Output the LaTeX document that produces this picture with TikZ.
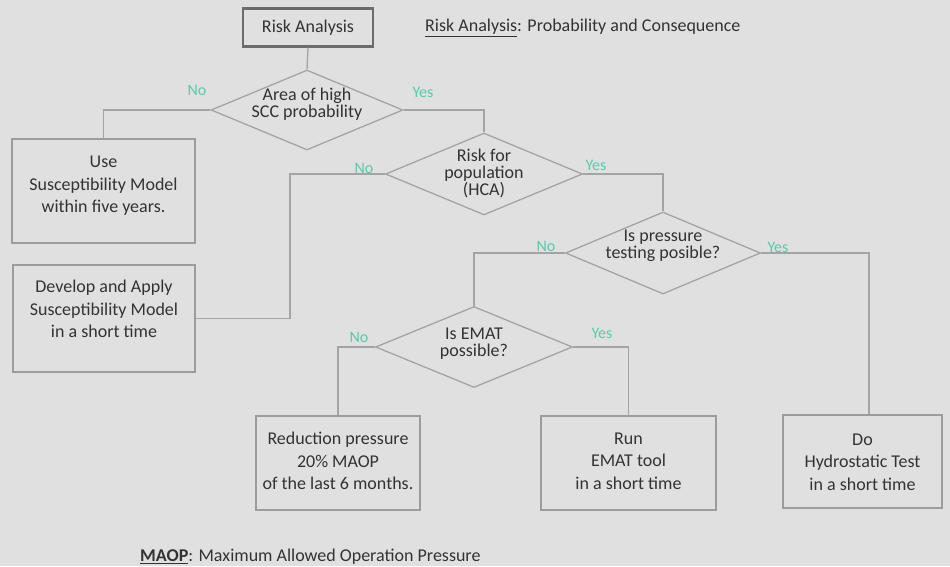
\documentclass[tikz,border=0pt]{standalone}
\usepackage{fontspec}
\setmainfont{Carlito}
\usetikzlibrary{shapes.geometric,calc}
\definecolor{bg}{HTML}{E0E0E0}
\definecolor{ln}{HTML}{A4A4A4}
\definecolor{bx}{HTML}{9C9C9C}
\definecolor{tx}{HTML}{333333}
\definecolor{lab}{HTML}{5CC8AC}
\tikzset{
  conn/.style={draw=ln, line width=1.3pt},
  boxshape/.style={draw=bx, line width=1.3pt, rectangle, inner sep=0pt},
  decshape/.style={draw=ln, line width=1.3pt, diamond, inner sep=0pt, aspect=2.4},
  boxtext/.style={text=tx, align=center, font=\fontsize{18}{22.5}\selectfont, inner sep=0pt},
  dectext/.style={text=tx, align=center, font=\fontsize{18}{17}\selectfont, inner sep=0pt},
  yn/.style={text=lab, font=\fontsize{16}{18}\selectfont, inner sep=0pt},
}
\begin{document}
\begin{tikzpicture}[x=1pt,y=-1pt]
\fill[bg] (0,0) rectangle (950,566);
\useasboundingbox (0,0) rectangle (950,566);

% start box
\node[boxshape, draw=gray!85!black, line width=2.2pt, minimum width=130pt, minimum height=38pt] (ra) at (308,27.5) {};
\node[boxtext] (rat) at (308,28) {Risk Analysis};

\node[text=tx, anchor=west, font=\fontsize{18}{22}\selectfont, inner sep=0pt] (note) at (425,28) {\underline{Risk Analysis}: Probability and Consequence};

% decisions
\node[decshape, minimum width=192pt, minimum height=80pt] (d1) at (307,110) {};
\node[dectext] (d1t) at (307,104) {Area of high\\SCC probability};

\node[decshape, minimum width=197pt, minimum height=82pt] (d2) at (484,174) {};
\node[dectext] (d2t) at (484,173) {Risk for\\population\\(HCA)};

\node[decshape, minimum width=195pt, minimum height=82pt] (d3) at (663,253) {};
\node[dectext] (d3t) at (663,246) {Is pressure\\testing posible?};

\node[decshape, minimum width=197pt, minimum height=81pt] (d4) at (474,347) {};
\node[dectext] (d4t) at (474,344) {Is EMAT\\possible?};

% result boxes
\node[boxshape, minimum width=183pt, minimum height=104pt] (b1) at (103.5,191) {};
\node[boxtext] (b1t) at (103.5,186) {Use\\Susceptibility Model\\within five years.};

\node[boxshape, minimum width=182pt, minimum height=107pt] (b2) at (104,318.5) {};
\node[boxtext] (b2t) at (104,309) {Develop and Apply\\Susceptibility Model\\in a short time};

\node[boxshape, minimum width=164pt, minimum height=94pt] (red) at (338,463) {};
\node[boxtext] (redt) at (338,461) {Reduction pressure\\20\% MAOP\\of the last 6 months.};

\node[boxshape, minimum width=175pt, minimum height=94pt] (run) at (628.5,463) {};
\node[boxtext] (runt) at (628.5,461) {Run\\EMAT tool\\in a short time};

\node[boxshape, minimum width=159pt, minimum height=93pt] (do) at (862.5,461.5) {};
\node[boxtext] (dot) at (862.5,462) {Do\\Hydrostatic Test\\in a short time};

% connectors
\coordinate (k2) at (290,0);
\draw[conn] (ra.south) -- (d1.north);
\draw[conn] (d1.west) -| (b1.north);
\draw[conn] (d1.east) -| (d2.north);
\draw[conn] (d2.west) -- (d2.west -| k2) |- (b2.east);
\draw[conn] (d2.east) -| (d3.north);
\draw[conn] (d3.west) -| (d4.north);
\draw[conn] (d3.east) -| ([xshift=6.5pt]do.north);
\draw[conn] (d4.west) -| (red.north);
\draw[conn] (d4.east) -| (run.north);

% yes / no labels
\node[yn] (n1) at (197,90) {No};
\node[yn] (y1) at (423,92) {Yes};
\node[yn] (n2) at (364,168) {No};
\node[yn] (y2) at (596,165) {Yes};
\node[yn] (n3) at (546,246) {No};
\node[yn] (y3) at (778,247) {Yes};
\node[yn] (n4) at (359,337) {No};
\node[yn] (y4) at (602,333) {Yes};

% footer
\node[text=tx, anchor=west, font=\fontsize{18}{22}\selectfont, inner sep=0pt] (foot) at (140,557) {\textbf{\underline{MAOP}}: Maximum Allowed Operation Pressure};
\end{tikzpicture}
\end{document}
